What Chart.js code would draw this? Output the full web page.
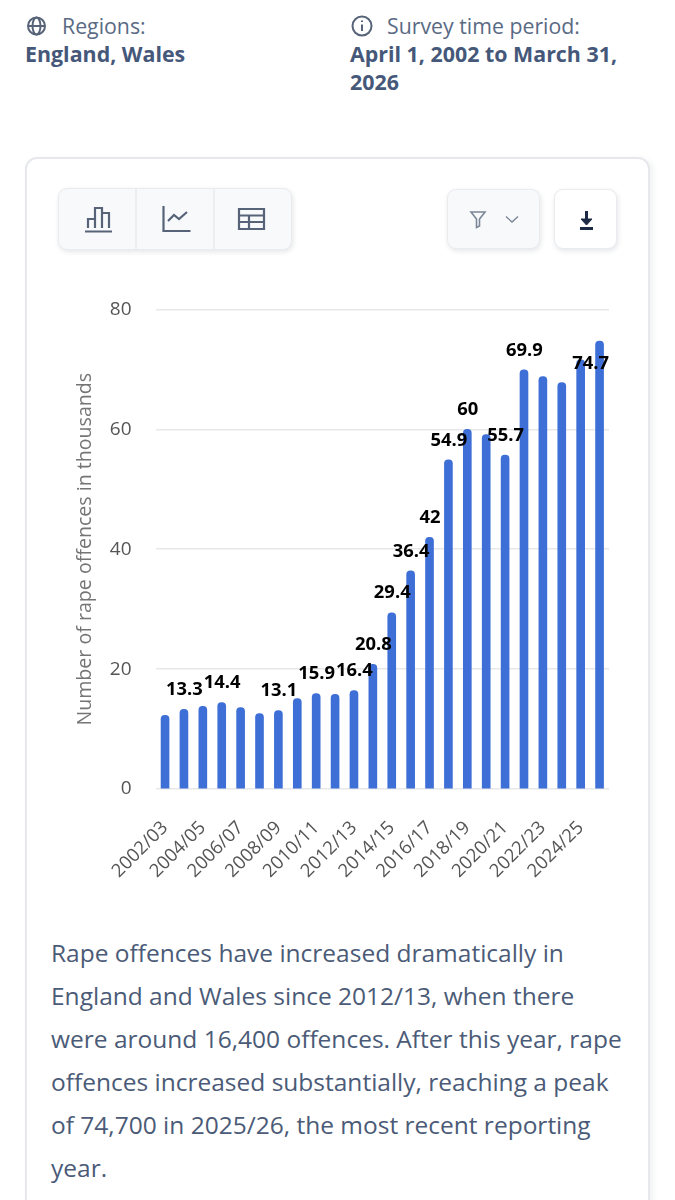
<!DOCTYPE html>
<html>
<head>
<meta charset="utf-8">
<title>Rape offences in England and Wales</title>
<script src="https://cdn.jsdelivr.net/npm/chart.js@4/dist/chart.umd.min.js"></script>
<style>
  html, body { margin: 0; padding: 0; background: #fff; }
  body { width: 675px; height: 1200px; position: relative; overflow: hidden; font-family: "Open Sans", sans-serif; }
  .abs { position: absolute; white-space: nowrap; }
  .meta-label { font-size: 21.3px; line-height: 28px; color: #5a6a84; }
  .meta-value { font-size: 21.4px; line-height: 28px; font-weight: 700; color: #46587a; }
  .card { left: 25px; top: 157px; width: 625px; height: 1100px; box-sizing: border-box; background: #fff;
    border: 2px solid #e6e8ec; border-radius: 12px; box-shadow: 3px 2px 6px rgba(40, 50, 70, .07); }
  .btn { box-sizing: border-box; background: #f8f9fb; border: 1px solid #e9ebef; border-radius: 9px;
    box-shadow: 1px 2px 5px rgba(40, 50, 70, .12); }
  .divider { width: 2px; background: #eceef1; }
  #chartBox { left: 0; top: 274px; width: 675px; height: 646px; }
  .summary { left: 51px; top: 931px; font-size: 24.5px; line-height: 43px; color: #4b5b77; }
</style>
</head>
<body>
<div class="abs meta-label" style="left:62px;top:12px">Regions:</div>
<div class="abs meta-value" style="left:25px;top:40px">England, Wales</div>
<div class="abs meta-label" style="left:387px;top:12px">Survey time period:</div>
<div class="abs meta-value" style="left:350px;top:40px;line-height:28px">April 1, 2002 to March 31,<br>2026</div>

<div class="abs card"></div>
<div class="abs btn" style="left:58px;top:188px;width:234px;height:62px"></div>
<div class="abs divider" style="left:135px;top:189px;height:60px"></div>
<div class="abs divider" style="left:213px;top:189px;height:60px"></div>
<div class="abs btn" style="left:447px;top:189px;width:93px;height:60px"></div>
<div class="abs btn" style="left:554px;top:189px;width:63px;height:60px;background:#fff"></div>

<!-- toolbar and header icons -->
<svg class="abs" style="left:0;top:0" width="675" height="270" fill="none" stroke="#566378" stroke-width="2">
  <circle cx="36.5" cy="26" r="8.5"/><ellipse cx="36.5" cy="26" rx="4" ry="8.5"/><path d="M28 26h17"/>
  <circle cx="362" cy="26" r="9.5"/><path d="M362 24.5v6.5M362 20.5v1.6"/>
  <path d="M85 231.500h27M88 228v-9h7v9M95 228v-20h7v20M102 228v-15h7v15" stroke-width="2.2"/>
  <path d="M163.500 206v25h27M168 221l6-6 5 4 8-7" stroke-width="2.2"/>
  <path d="M239 209h25v20h-25zM239 215.500h25M239 222h25M249 215.500V229" stroke-width="2.2"/>
  <path d="M471 212h14l-5.500 7v7l-3 1.500v-8.500z" stroke="#7b8698" stroke-width="1.600"/>
  <path d="M506 216.500l6 5.500 6-5.500" stroke="#7b8698" stroke-width="1.400"/>
  <path d="M580 228.500h13" stroke="#1c2a44" stroke-width="3"/>
  <path d="M586.500 211v9" stroke="#1c2a44" stroke-width="3"/>
  <path d="M581 219h11l-5.500 6z" fill="#1c2a44" stroke="#1c2a44" stroke-width="1"/>
</svg>

<div class="abs" id="chartBox"><canvas id="offencesChart" width="675" height="646"></canvas></div>

<div class="abs summary">Rape offences have increased dramatically in<br>England and Wales since 2012/13, when there<br>were around 16,400 offences. After this year, rape<br>offences increased substantially, reaching a peak<br>of 74,700 in 2025/26, the most recent reporting<br>year.</div>

<script>
const years = ["2002/03", "2003/04", "2004/05", "2005/06", "2006/07", "2007/08", "2008/09", "2009/10",
  "2010/11", "2011/12", "2012/13", "2013/14", "2014/15", "2015/16", "2016/17", "2017/18",
  "2018/19", "2019/20", "2020/21", "2021/22", "2022/23", "2023/24", "2024/25", "2025/26"];
const offences = [12.3, 13.3, 13.8, 14.4, 13.6, 12.6, 13.1, 15.1, 15.9, 15.8, 16.4, 20.8,
  29.4, 36.4, 42, 54.9, 60, 59.1, 55.7, 69.9, 68.8, 67.8, 71.6, 74.7];
// only these years carry a value label
const labelledYears = ["2003/04", "2005/06", "2008/09", "2010/11", "2012/13", "2013/14", "2014/15",
  "2015/16", "2016/17", "2017/18", "2018/19", "2020/21", "2021/22", "2025/26"];
const yTicks = [0, 20, 40, 60, 80];

const valueLabels = {
  id: "valueLabels",
  afterDatasetsDraw(chart) {
    const ctx = chart.ctx;
    const bars = chart.getDatasetMeta(0).data;
    ctx.save();
    ctx.font = "700 18.4px 'Open Sans'";
    ctx.fillStyle = "#000";
    ctx.textAlign = "center";
    ctx.textBaseline = "middle";
    bars.forEach((bar, i) => {
      if (!labelledYears.includes(years[i])) return;
      // the last label sits tucked in beside its bar instead of above it
      const isLast = i === bars.length - 1;
      const x = isLast ? bar.x - 9 : bar.x + 0.5;
      const y = isLast ? bar.y + 22.5 : bar.y - 19.5;
      ctx.fillText(String(offences[i]), x, y);
    });
    ctx.restore();
  }
};

new Chart("offencesChart", {
  type: "bar",
  data: {
    labels: years,
    datasets: [{
      data: offences,
      backgroundColor: "#3e6fd6",
      barThickness: 8,
      borderRadius: { topLeft: 4, topRight: 4 },
      borderSkipped: "bottom"
    }]
  },
  plugins: [valueLabels],
  options: {
    responsive: false,
    animation: false,
    layout: { padding: { left: 74, right: 66, top: 23, bottom: 0 } },
    plugins: { legend: { display: false }, tooltip: { enabled: false } },
    scales: {
      x: {
        grid: { display: false },
        border: { display: false },
        afterFit: (scale) => { scale.height = 131; },
        ticks: {
          autoSkip: false,
          minRotation: 45,
          maxRotation: 45,
          padding: 20,
          color: "#555",
          font: { family: "Open Sans", size: 18.5 },
          callback: (value, i) => (i % 2 === 0 ? years[i] : "")
        }
      },
      y: {
        min: 0,
        max: 80,
        afterFit: (scale) => { scale.width = 81.6; },
        afterBuildTicks: (scale) => { scale.ticks = yTicks.map((value) => ({ value })); },
        grid: { color: "#e8e8e8", lineWidth: 1.5, drawTicks: false },
        border: { display: false },
        ticks: {
          padding: 24,
          color: "#555",
          font: { family: "Open Sans", size: 19 }
        },
        title: {
          display: true,
          text: "Number of rape offences in thousands",
          color: "#757575",
          padding: 0,
          font: { family: "Open Sans", size: 19.6 }
        }
      }
    }
  }
});
</script>
</body>
</html>
